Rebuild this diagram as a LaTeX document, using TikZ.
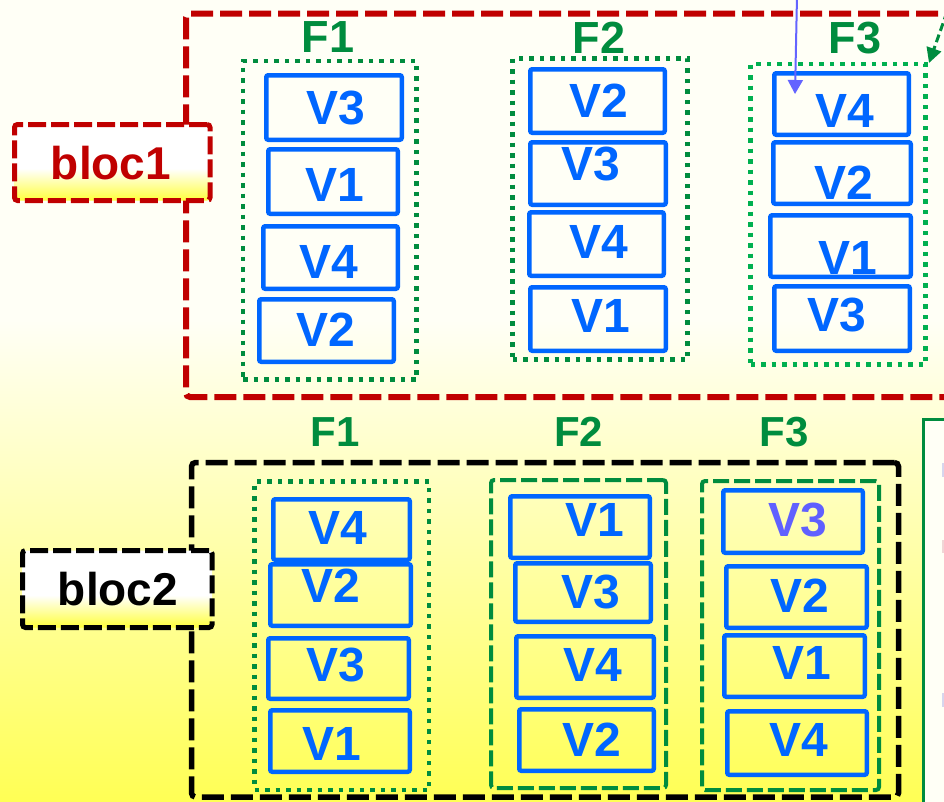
\documentclass[tikz,border=0pt]{standalone}
\usepackage{fontspec}
\setmainfont{Liberation Sans}
\usetikzlibrary{fit,arrows.meta}
\definecolor{bgcream}{RGB}{255,255,246}
\definecolor{bgyellow}{RGB}{255,255,85}
\definecolor{labyellow}{RGB}{255,255,60}
\definecolor{redd}{RGB}{192,0,0}
\definecolor{vblue}{RGB}{0,102,255}
\definecolor{fgreen}{RGB}{0,140,62}
\definecolor{dotgreenA}{RGB}{0,140,62}
\definecolor{dotgreenB}{RGB}{0,176,80}
\definecolor{arrpurple}{RGB}{100,100,255}
\definecolor{vpurple}{RGB}{96,96,255}
\definecolor{marklav}{RGB}{214,214,238}
\definecolor{markpink}{RGB}{240,214,214}
\pgfdeclareverticalshading{bgshade}{100bp}{color(0bp)=(bgyellow); color(25bp)=(bgyellow); color(55bp)=(bgcream); color(100bp)=(bgcream)}
\pgfdeclareverticalshading{labshade}{100bp}{color(0bp)=(labyellow); color(25bp)=(labyellow); color(46bp)=(white); color(100bp)=(white)}
\tikzset{
  vbox/.style={draw=vblue, line width=4.5pt, rounded corners=2pt, inner sep=0pt},
  vtext/.style={text=vblue, font=\fontsize{48}{48}\selectfont\bfseries, inner sep=0pt},
  ftext/.style={text=fgreen, font=\fontsize{45}{45}\selectfont\bfseries, inner sep=0pt},
  ftextb/.style={text=fgreen, font=\fontsize{42}{42}\selectfont\bfseries, inner sep=0pt},
  dotbox/.style={line width=4.5pt, dash pattern=on 4.5pt off 6pt, inner sep=0pt},
  dashbox/.style={draw=dotgreenA, line width=4pt, dash pattern=on 16pt off 5pt, rounded corners=3pt, inner sep=0pt},
  blocred/.style={draw=redd, line width=6pt, dash pattern=on 22pt off 7pt, rounded corners=4pt, inner sep=0pt},
  blocblack/.style={draw=black, line width=5.5pt, dash pattern=on 22pt off 7pt, rounded corners=4pt, inner sep=0pt},
  labbox/.style={line width=5pt, dash pattern=on 18pt off 5pt, rounded corners=3pt, shade, shading=labshade, inner sep=0pt},
  labtext/.style={font=\fontsize{46}{46}\selectfont\bfseries, inner sep=0pt},
}
\newcommand\vbx[8]{%
  \node[vbox, fit={(#2+2.25,#3+2.25) (#4-2.25,#5-2.25)}] (#1) {};
  \node[vtext] (#1t) at (#6,#7) {#8};}
\begin{document}
\begin{tikzpicture}[x=1pt,y=-1pt]
\useasboundingbox (0,0) rectangle (944,801);
\clip (0,0) rectangle (944,801);
\shade[shading=bgshade] (0,0) rectangle (944,801);

% ---------- bloc1 ----------
\node[blocred, fit={(186,13.5) (1000,397)}] (bloc1area) {};
\node[ftext] (f1a) at (328,37.5) {F1};
\node[ftext] (f2a) at (599,38) {F2};
\node[ftext] (f3a) at (855,38) {F3};

\node[dotbox, draw=dotgreenA, fit={(243,61) (416.5,379.5)}] (c1a) {};
\node[dotbox, draw=dotgreenA, fit={(512.5,58.5) (687.5,359.5)}] (c2a) {};
\node[dotbox, draw=dotgreenB, fit={(750.5,64) (925.5,364.5)}] (c3a) {};

\vbx{a11}{264}{73}{404}{142}{336}{108.5}{V3}
\vbx{a12}{266}{147}{400}{216}{335}{184.5}{V1}
\vbx{a13}{261}{224}{400}{291}{329}{261.5}{V4}
\vbx{a14}{257}{297}{396}{364}{325.5}{329.5}{V2}

\vbx{a21}{528}{67}{667}{135}{598.5}{101}{V2}
\vbx{a22}{528}{140}{668}{207}{590.5}{164}{V3}
\vbx{a23}{527}{210}{666}{278}{598.5}{242}{V4}
\vbx{a24}{528}{285}{668}{353}{601}{316}{V1}

\vbx{a31}{772}{71}{911}{137}{845}{110.5}{V4}
\vbx{a32}{771}{140}{913}{206}{844}{182.5}{V2}
\vbx{a33}{768}{213}{913}{279}{848}{257.5}{V1}
\vbx{a34}{772}{284}{912}{353}{837}{315.5}{V3}

\node[labbox, draw=redd, fit={(14.5,124.5) (210,200.5)}] (bloc1) {};
\node[labtext, text=redd] (bloc1t) at (111,163) {bloc1};

% ---------- bloc2 ----------
\node[blocblack, fit={(191.5,462.5) (898.5,797)}] (bloc2area) {};
\node[ftextb] (f1b) at (335,432) {F1};
\node[ftextb] (f2b) at (578.5,432) {F2};
\node[ftextb] (f3b) at (784,432) {F3};

\node[dotbox, draw=dotgreenA, fit={(254.5,481.5) (429,790)}] (c1b) {};
\node[dashbox, fit={(491,480) (666,788)}] (c2b) {};
\node[dashbox, fit={(702,481) (879,790)}] (c3b) {};

\vbx{b11}{271}{497}{412}{562}{338}{528}{V4}
\vbx{b12}{268}{562}{413}{628}{331}{585.5}{V2}
\vbx{b13}{266}{636}{411}{701}{335.5}{665}{V3}
\vbx{b14}{268}{708}{412}{774}{331.5}{743.5}{V1}

\vbx{b21}{508}{494}{652}{560}{594.5}{520}{V1}
\vbx{b22}{513}{561}{653}{624}{590.5}{592}{V3}
\vbx{b23}{514}{634}{656}{700}{592.5}{665}{V4}
\vbx{b24}{517}{707}{656}{773}{592}{739.5}{V2}

\node[vbox, fit={(721+2.25,488+2.25) (865-2.25,555-2.25)}] (b31) {};
\node[vtext, text=vpurple] (b31t) at (798,519.5) {V3};
\vbx{b32}{724}{564}{869}{630}{799.5}{596}{V2}
\vbx{b33}{722}{633}{867}{699}{801.5}{663}{V1}
\vbx{b34}{725}{709}{869}{777}{799}{740}{V4}

\node[labbox, draw=black, fit={(22.5,550.5) (212,627.5)}] (bloc2) {};
\node[labtext, text=black] (bloc2t) at (118,589) {bloc2};

% ---------- right panel ----------
\node[draw=dotgreenA, line width=2.5pt, fill=bgcream, inner sep=0pt, fit={(923.25,419.25) (980,830)}] (panel) {};
\fill[marklav] (942,463) rectangle (944,477);
\fill[markpink] (942,540) rectangle (944,553);
\fill[marklav] (942,693) rectangle (944,707);

% ---------- arrows ----------
\coordinate (pa) at (797,-4);
\coordinate (pb) at (795,94);
\draw[arrpurple, line width=2pt, -{Triangle[length=14pt,width=15pt]}] (pa) -- (pb);
\coordinate (ga) at (947,12);
\coordinate (gb) at (929,63);
\draw[dotgreenA, line width=3pt, dash pattern=on 8pt off 4pt, -{Triangle[length=15pt,width=15pt]}] (ga) -- (gb);
\end{tikzpicture}
\end{document}
